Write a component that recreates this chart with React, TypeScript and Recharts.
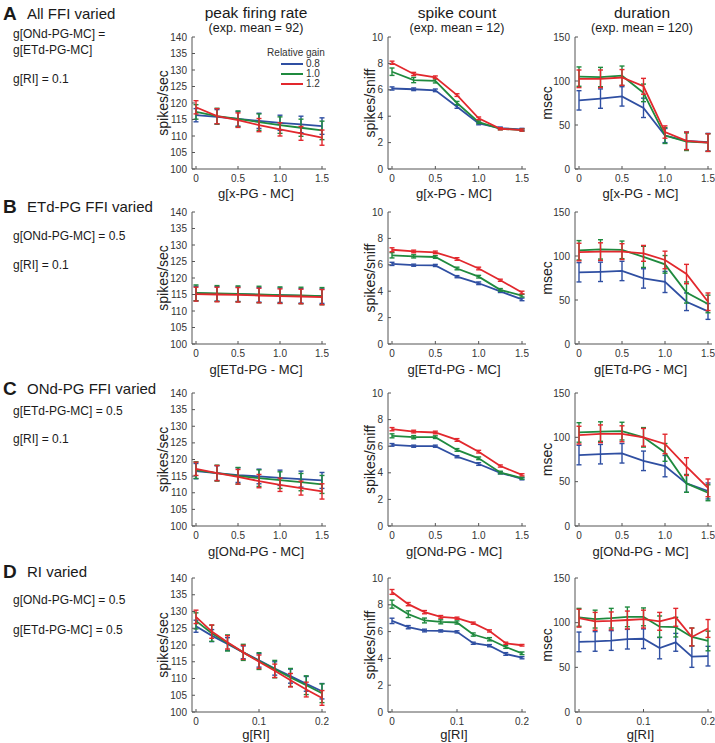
import React from 'react';
import { LineChart, Line, XAxis, YAxis, ErrorBar, Label } from 'recharts';

const BLUE = '#2f4fa2';
const GREEN = '#1f8a3e';
const RED = '#e2282d';
const seriesColors = [BLUE, GREEN, RED];
const gainLabels = ['0.8', '1.0', '1.2'];

const metricTitles = ['peak firing rate', 'spike count', 'duration'];
const expMeans = ['(exp. mean = 92)', '(exp. mean = 12)', '(exp. mean = 120)'];
const yLabels = ['spikes/sec', 'spikes/sniff', 'msec'];
const xLabels = ['g[x-PG - MC]', 'g[ETd-PG - MC]', 'g[ONd-PG - MC]', 'g[RI]'];

const xFfi = [0, 0.25, 0.5, 0.75, 1.0, 1.25, 1.5];
const xRi = [0, 0.025, 0.05, 0.075, 0.1, 0.125, 0.15, 0.175, 0.2];
const ticksFfi = [0, 0.5, 1.0, 1.5];
const ticksRi = [0, 0.1, 0.2];

const rateTicks = [100, 105, 110, 115, 120, 125, 130, 135, 140];
const countTicks = [0, 2, 4, 6, 8, 10];
const durTicks = [0, 50, 100, 150];

// A: all FFI varied
const rateA08 = [116.3, 115.8, 115.2, 114.6, 114.0, 113.5, 113.0];
const rateA10 = [117.3, 116.0, 115.2, 114.2, 113.3, 112.5, 111.7];
const rateA12 = [118.7, 116.0, 114.8, 113.3, 112.0, 110.8, 109.5];
const rateAE08 = [2.0, 2.2, 2.2, 2.3, 2.3, 2.5, 2.5];
const rateAE10 = [2.2, 2.4, 2.4, 2.5, 2.5, 2.6, 2.8];
const rateAE12 = [2.0, 2.3, 2.2, 2.0, 2.0, 2.1, 2.3];

const countA08 = [6.1, 6.04, 5.96, 4.72, 3.45, 3.1, 3.0];
const countA10 = [7.37, 6.74, 6.67, 5.0, 3.55, 3.05, 2.95];
const countA12 = [8.05, 7.2, 6.95, 5.6, 3.84, 3.05, 2.95];
const countAE08 = [0.12, 0.1, 0.1, 0.12, 0.1, 0.08, 0.08];
const countAE10 = [0.28, 0.2, 0.15, 0.12, 0.1, 0.08, 0.08];
const countAE12 = [0.12, 0.12, 0.1, 0.1, 0.1, 0.08, 0.08];

const durA08 = [78, 80, 82.5, 69.5, 38, 32, 30.5];
const durA10 = [105, 104.5, 106, 86.5, 38, 31, 30];
const durA12 = [102.5, 102.5, 104, 94, 42, 32, 30];
const durAE08 = [11, 11, 11, 11, 8, 10, 10];
const durAE10 = [11, 11, 11, 10, 9, 10, 10];
const durAE12 = [10, 10, 9, 9, 7, 10, 10];

// B: ETd-PG FFI varied
const rateB08 = [115.3, 115.2, 115.1, 114.9, 114.8, 114.6, 114.5];
const rateB10 = [115.5, 115.3, 115.2, 115.0, 114.8, 114.7, 114.5];
const rateB12 = [115.1, 115.0, 114.9, 114.7, 114.5, 114.4, 114.2];
const rateBE08 = [2.2, 2.2, 2.2, 2.2, 2.2, 2.2, 2.2];
const rateBE10 = [2.4, 2.4, 2.4, 2.5, 2.5, 2.5, 2.6];
const rateBE12 = [2.1, 2.2, 2.2, 2.2, 2.2, 2.2, 2.3];

const countB08 = [6.07, 5.97, 5.95, 5.1, 4.6, 3.98, 3.38];
const countB10 = [6.72, 6.64, 6.59, 5.72, 5.1, 4.1, 3.66];
const countB12 = [7.14, 7.01, 6.94, 6.44, 5.72, 4.83, 3.9];
const countBE08 = [0.12, 0.08, 0.08, 0.08, 0.1, 0.08, 0.1];
const countBE10 = [0.2, 0.12, 0.1, 0.1, 0.1, 0.1, 0.1];
const countBE12 = [0.15, 0.1, 0.1, 0.1, 0.1, 0.08, 0.1];

const durB08 = [81.5, 82, 83, 74.5, 70.5, 48, 37];
const durB10 = [106.5, 107.5, 107, 99, 90.5, 58.5, 45.5];
const durB12 = [104.5, 105, 105, 103, 95.5, 79.5, 48];
const durBE08 = [11, 11, 11, 11, 12, 10, 9];
const durBE10 = [11, 11, 10, 12, 10, 12, 10];
const durBE12 = [10, 10, 9, 9, 10, 11, 10];

// C: ONd-PG FFI varied
const rateC08 = [116.5, 115.9, 115.3, 114.9, 114.5, 114.1, 113.7];
const rateC10 = [116.8, 115.9, 115.1, 114.4, 113.8, 113.2, 112.5];
const rateC12 = [117.2, 115.9, 114.8, 113.5, 112.4, 111.4, 110.4];
const rateCE08 = [2.3, 2.2, 2.2, 2.2, 2.3, 2.4, 2.4];
const rateCE10 = [2.5, 2.4, 2.5, 2.5, 2.5, 2.6, 2.7];
const rateCE12 = [2.0, 2.3, 2.2, 2.0, 2.0, 2.1, 2.3];

const countC08 = [6.1, 6.0, 6.0, 5.21, 4.66, 4.0, 3.55];
const countC10 = [6.78, 6.68, 6.68, 5.72, 5.09, 4.02, 3.6];
const countC12 = [7.28, 7.1, 7.03, 6.47, 5.59, 4.51, 3.85];
const countCE08 = [0.1, 0.08, 0.08, 0.08, 0.1, 0.08, 0.08];
const countCE10 = [0.15, 0.12, 0.1, 0.1, 0.1, 0.1, 0.08];
const countCE12 = [0.12, 0.1, 0.1, 0.1, 0.1, 0.08, 0.08];

const durC08 = [80, 81, 82, 73.5, 67.5, 48, 39.5];
const durC10 = [105.5, 106.5, 107, 100, 83, 48, 37.5];
const durC12 = [102.5, 104, 104, 100, 92.5, 67, 43];
const durCE08 = [11, 11, 11, 11, 12, 10, 9];
const durCE10 = [11, 11, 10, 11, 10, 10, 9];
const durCE12 = [10, 10, 9, 10, 11, 10, 10];

// D: RI varied
const rateD08 = [125.6, 122.8, 120.3, 117.8, 115.4, 113.0, 110.7, 108.4, 106.2];
const rateD10 = [127.2, 123.5, 120.6, 117.8, 115.2, 112.8, 110.3, 108.0, 105.6];
const rateD12 = [128.4, 124.0, 120.8, 117.8, 115.0, 112.3, 109.5, 106.7, 104.2];
const rateDE08 = [1.8, 1.8, 1.9, 1.9, 2.0, 2.0, 2.1, 2.2, 2.3];
const rateDE10 = [2.4, 2.4, 2.4, 2.4, 2.5, 2.6, 2.7, 2.8, 2.8];
const rateDE12 = [2.0, 2.0, 2.0, 2.1, 2.0, 2.0, 2.0, 2.2, 2.2];

const countD08 = [6.8, 6.33, 6.08, 6.05, 5.98, 5.13, 4.95, 4.33, 4.05];
const countD10 = [8.05, 7.3, 6.83, 6.73, 6.68, 5.78, 5.43, 4.85, 4.38];
const countD12 = [8.96, 8.05, 7.45, 7.1, 7.0, 6.63, 6.05, 5.13, 4.98];
const countDE08 = [0.2, 0.12, 0.1, 0.08, 0.08, 0.08, 0.08, 0.1, 0.08];
const countDE10 = [0.3, 0.25, 0.18, 0.15, 0.12, 0.12, 0.12, 0.1, 0.1];
const countDE12 = [0.18, 0.12, 0.12, 0.1, 0.08, 0.08, 0.08, 0.08, 0.06];

const durD08 = [78.5, 79, 80, 81.5, 82, 71.5, 78, 62, 62.5];
const durD10 = [106, 104, 105, 106.5, 106.5, 95.5, 95, 84, 79.5];
const durD12 = [105, 101.5, 102, 103, 104, 101.5, 106, 84, 93.5];
const durDE08 = [11, 11, 11, 11, 11, 12, 10, 12, 11];
const durDE10 = [10, 10, 11, 11, 10, 12, 11, 10, 11];
const durDE12 = [10, 10, 10, 10, 10, 10, 10, 10, 10];

// layout
const Y_W = 45;
const M_TOP = 6;
const M_RIGHT = 3;
const M_BOTTOM = 6;
const X_H = 30;
const colLeft = [192, 388, 575];
const colWidth = [134, 138, 137];
const colYLabelOffset = [16, 27, 17];
const colCenter = [256, 457, 642];
const rowTop = [37, 212, 393, 578];
const rowHeight = [132, 132, 133, 134];
const rowXLabelOffset = [1, 0, 0, 3];
const AXIS = '#555';
const FONT = '"Liberation Sans", Arial, Helvetica, sans-serif';

const fmtX = (v: number) => (v === 0 ? '0' : v.toFixed(1));

interface PanelProps {
  col: number;
  row: number;
  xs: number[];
  xTicks: number[];
  xMax: number;
  yDomain: [number, number];
  yTicks: number[];
  vals: number[][];
  errs: number[][];
}

const Panel = ({ col, row, xs, xTicks, xMax, yDomain, yTicks, vals, errs }: PanelProps) => {
  const data = xs.map((x, i) => ({
    x,
    s0: vals[0][i], s1: vals[1][i], s2: vals[2][i],
    e0: errs[0][i], e1: errs[1][i], e2: errs[2][i],
  }));
  const w = colWidth[col];
  const h = rowHeight[row];
  return (
    <div style={{ position: 'absolute', left: colLeft[col] - Y_W, top: rowTop[row] - M_TOP }}>
      <LineChart
        width={Y_W + w + M_RIGHT}
        height={M_TOP + h + X_H + M_BOTTOM}
        data={data}
        margin={{ top: M_TOP, right: M_RIGHT, bottom: M_BOTTOM, left: 0 }}
      >
        <XAxis
          dataKey="x"
          type="number"
          domain={[0, xMax]}
          ticks={xTicks}
          tickFormatter={fmtX}
          padding={{ left: 4, right: 4 }}
          height={X_H}
          stroke={AXIS}
          tickSize={-3}
          tickMargin={9}
          tick={{ fontSize: 10, fill: '#333' }}
        >
          <Label
            value={xLabels[row]}
            position="insideBottom"
            offset={rowXLabelOffset[row]}
            dx={-3}
            style={{ fontSize: 13, fill: '#222' }}
          />
        </XAxis>
        <YAxis
          type="number"
          domain={yDomain}
          ticks={yTicks}
          interval={0}
          width={Y_W}
          stroke={AXIS}
          tickSize={-3}
          tickMargin={8}
          tick={{ fontSize: 10, fill: '#333' }}
        >
          <Label
            value={yLabels[col]}
            angle={-90}
            position="insideLeft"
            offset={colYLabelOffset[col]}
            style={{ textAnchor: 'middle', fontSize: 14, fill: '#222' }}
          />
        </YAxis>
        {[0, 1, 2].map((k) => (
          <Line
            key={k}
            type="linear"
            dataKey={`s${k}`}
            stroke={seriesColors[k]}
            strokeWidth={1.8}
            dot={false}
            activeDot={false}
            isAnimationActive={false}
          >
            <ErrorBar dataKey={`e${k}`} direction="y" width={2.5} strokeWidth={1.4} stroke={seriesColors[k]} />
          </Line>
        ))}
      </LineChart>
    </div>
  );
};

const rowHeadings = [
  { letter: 'A', title: 'All FFI varied', y: 14, notes: [['g[ONd-PG-MC] =', 35], ['g[ETd-PG-MC]', 51], ['g[RI] = 0.1', 80]] },
  { letter: 'B', title: 'ETd-PG FFI varied', y: 207, notes: [['g[ONd-PG-MC] = 0.5', 237], ['g[RI] = 0.1', 266]] },
  { letter: 'C', title: 'ONd-PG FFI varied', y: 389, notes: [['g[ETd-PG-MC] = 0.5', 412], ['g[RI] = 0.1', 440]] },
  { letter: 'D', title: 'RI varied', y: 572, notes: [['g[ONd-PG-MC] = 0.5', 601], ['g[ETd-PG-MC] = 0.5', 631]] },
];

const txt = (x: number, yc: number, size: number, extra: React.CSSProperties = {}) => ({
  position: 'absolute' as const,
  left: x,
  top: yc - size * 0.58,
  fontSize: size,
  lineHeight: 1.15,
  whiteSpace: 'nowrap' as const,
  color: '#1a1a1a',
  ...extra,
});

const App = () => {
  const rateDom: [number, number] = [100, 140];
  const countDom: [number, number] = [0, 10];
  const durDom: [number, number] = [0, 150];
  const rows = [
    { xs: xFfi, t: ticksFfi, m: 1.5,
      rate: [[rateA08, rateA10, rateA12], [rateAE08, rateAE10, rateAE12]],
      count: [[countA08, countA10, countA12], [countAE08, countAE10, countAE12]],
      dur: [[durA08, durA10, durA12], [durAE08, durAE10, durAE12]] },
    { xs: xFfi, t: ticksFfi, m: 1.5,
      rate: [[rateB08, rateB10, rateB12], [rateBE08, rateBE10, rateBE12]],
      count: [[countB08, countB10, countB12], [countBE08, countBE10, countBE12]],
      dur: [[durB08, durB10, durB12], [durBE08, durBE10, durBE12]] },
    { xs: xFfi, t: ticksFfi, m: 1.5,
      rate: [[rateC08, rateC10, rateC12], [rateCE08, rateCE10, rateCE12]],
      count: [[countC08, countC10, countC12], [countCE08, countCE10, countCE12]],
      dur: [[durC08, durC10, durC12], [durCE08, durCE10, durCE12]] },
    { xs: xRi, t: ticksRi, m: 0.2,
      rate: [[rateD08, rateD10, rateD12], [rateDE08, rateDE10, rateDE12]],
      count: [[countD08, countD10, countD12], [countDE08, countDE10, countDE12]],
      dur: [[durD08, durD10, durD12], [durDE08, durDE10, durDE12]] },
  ];

  return (
    <div style={{ position: 'absolute', left: 0, top: 0, width: 715, height: 743, background: '#fff', fontFamily: FONT, overflow: 'hidden' }}>
      {metricTitles.map((t, i) => (
        <React.Fragment key={t}>
          <div style={{ ...txt(colCenter[i] - 100, 13, 15.5), width: 200, textAlign: 'center' }}>{t}</div>
          <div style={{ ...txt(colCenter[i] - 100, 28, 12.5), width: 200, textAlign: 'center' }}>{expMeans[i]}</div>
        </React.Fragment>
      ))}

      {rowHeadings.map((r) => (
        <React.Fragment key={r.letter}>
          <div style={txt(3, r.y, 19, { fontWeight: 'bold' })}>{r.letter}</div>
          <div style={txt(27, r.y, 15)}>{r.title}</div>
          {r.notes.map(([n, y]) => (
            <div key={String(n)} style={txt(13, y as number, 12)}>{n}</div>
          ))}
        </React.Fragment>
      ))}

      {rows.map((r, ri) => (
        <React.Fragment key={ri}>
          <Panel col={0} row={ri} xs={r.xs} xTicks={r.t} xMax={r.m} yDomain={rateDom} yTicks={rateTicks} vals={r.rate[0]} errs={r.rate[1]} />
          <Panel col={1} row={ri} xs={r.xs} xTicks={r.t} xMax={r.m} yDomain={countDom} yTicks={countTicks} vals={r.count[0]} errs={r.count[1]} />
          <Panel col={2} row={ri} xs={r.xs} xTicks={r.t} xMax={r.m} yDomain={durDom} yTicks={durTicks} vals={r.dur[0]} errs={r.dur[1]} />
        </React.Fragment>
      ))}

      {/* legend inside the first panel */}
      <div style={{ ...txt(246, 53, 10), width: 100, textAlign: 'center', color: '#333' }}>Relative gain</div>
      {gainLabels.map((g, i) => (
        <React.Fragment key={g}>
          <div style={{ position: 'absolute', left: 281, top: 63 + i * 10, width: 22, height: 2, background: seriesColors[i] }} />
          <div style={{ ...txt(306, 64 + i * 10, 10), color: '#333' }}>{g}</div>
        </React.Fragment>
      ))}
    </div>
  );
};

export default App;
